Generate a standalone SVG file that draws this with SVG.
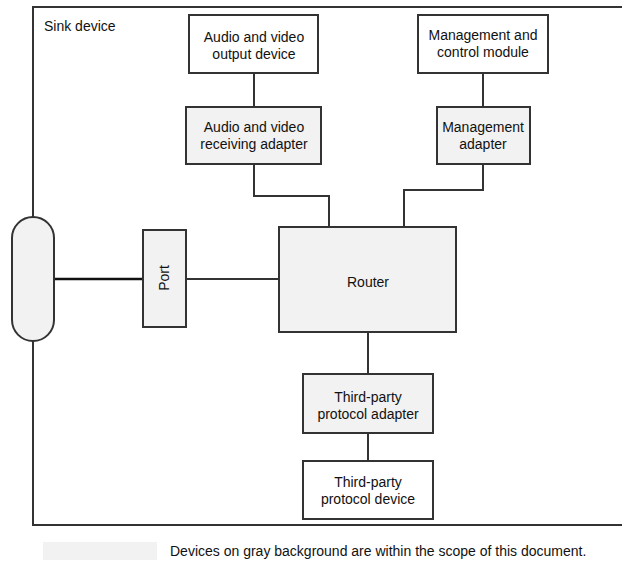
<svg xmlns="http://www.w3.org/2000/svg" width="622" height="563" viewBox="0 0 622 563">
  <style>
    .box { stroke: #333; stroke-width: 2; fill: #fff; }
    .gray { fill: #f2f2f2; }
    .wire { stroke: #333; stroke-width: 2; fill: none; }
    .thick { stroke: #111; stroke-width: 2.5; fill: none; }
    text { font-family: "Liberation Sans", Arial, sans-serif; font-size: 14px; fill: #111; }
    .c { text-anchor: middle; dominant-baseline: central; }
  </style>
  <rect width="622" height="563" fill="#fff"/>

  <!-- Sink device frame (open on the right) -->
  <g id="sink-device">
    <path class="wire" d="M640 7 H33 V525 H640"/>
    <text x="44" y="31">Sink device</text>
  </g>

  <!-- connectors -->
  <g id="connectors">
    <line class="wire" x1="254" y1="73" x2="254" y2="107"/>
    <polyline class="wire" points="254,164 254,196 329,196 329,227"/>
    <line class="wire" x1="483" y1="73" x2="483" y2="107"/>
    <polyline class="wire" points="483,164 483,190 404,190 404,227"/>
    <line class="thick" x1="54" y1="279" x2="143" y2="279"/>
    <line class="wire" x1="186" y1="279" x2="279" y2="279"/>
    <line class="wire" x1="368" y1="332" x2="368" y2="374"/>
    <line class="wire" x1="368" y1="433" x2="368" y2="461"/>
  </g>

  <g id="interface">
    <rect class="box gray" x="12" y="217" width="42" height="124" rx="21" ry="21"/>
  </g>

  <g id="av-output-device">
    <rect class="box" x="189" y="15" width="129" height="58"/>
    <text class="c" x="254" y="37">Audio and video</text>
    <text class="c" x="254" y="54">output device</text>
  </g>

  <g id="av-receiving-adapter">
    <rect class="box gray" x="186" y="107" width="135" height="57"/>
    <text class="c" x="254" y="127">Audio and video</text>
    <text class="c" x="254" y="144">receiving adapter</text>
  </g>

  <g id="management-control-module">
    <rect class="box" x="418" y="15" width="130" height="58"/>
    <text class="c" x="483" y="35">Management and</text>
    <text class="c" x="483" y="52">control module</text>
  </g>

  <g id="management-adapter">
    <rect class="box gray" x="437" y="107" width="93" height="57"/>
    <text class="c" x="483" y="127">Management</text>
    <text class="c" x="483" y="144">adapter</text>
  </g>

  <g id="port">
    <rect class="box gray" x="143" y="230" width="43" height="97"/>
    <text class="c" x="164" y="278" transform="rotate(-90 164 278)">Port</text>
  </g>

  <g id="router">
    <rect class="box gray" x="279" y="227" width="177" height="105"/>
    <text class="c" x="368" y="282">Router</text>
  </g>

  <g id="third-party-adapter">
    <rect class="box gray" x="303" y="374" width="130" height="59"/>
    <text class="c" x="368" y="397">Third-party</text>
    <text class="c" x="368" y="414">protocol adapter</text>
  </g>

  <g id="third-party-device">
    <rect class="box" x="303" y="461" width="130" height="58"/>
    <text class="c" x="368" y="482">Third-party</text>
    <text class="c" x="368" y="499">protocol device</text>
  </g>

  <!-- legend -->
  <g id="legend">
    <rect x="43" y="542" width="114" height="18" fill="#f2f2f2"/>
    <text x="170" y="556">Devices on gray background are within the scope of this document.</text>
  </g>
</svg>
